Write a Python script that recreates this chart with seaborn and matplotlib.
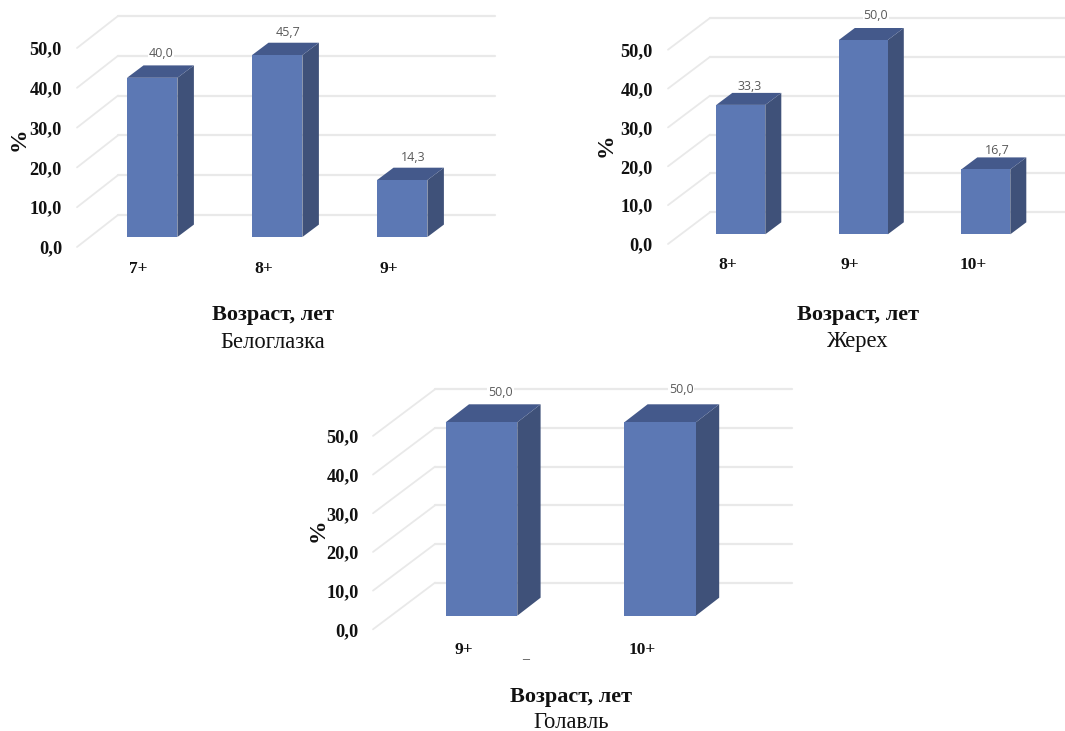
import matplotlib
matplotlib.use("Agg")
import matplotlib.pyplot as plt
from matplotlib.transforms import ScaledTranslation
import pandas as pd
import seaborn as sns

# Age-group shares, %
belogl_ages = ["7+", "8+", "9+"]
belogl_share = [40.0, 45.7, 14.3]
zherekh_ages = ["8+", "9+", "10+"]
zherekh_share = [33.3, 50.0, 16.7]
golavl_ages = ["9+", "10+"]
golavl_share = [50.0, 50.0]
y_ticks = [0, 10, 20, 30, 40, 50]

W, H, DPI = 1065, 731, 100
FRONT, SIDE, TOP = "#5C78B4", "#3F5179", "#44598B"
GRID = "#E9E9E9"

sns.set_theme(style="white")
plt.rcParams["font.family"] = ["Liberation Serif", "DejaVu Serif"]

# Panel geometry in figure pixels
panels = [
    dict(species="Белоглазка", ages=belogl_ages, share=belogl_share,
         left=62, wall_x0=118, wall_x1=495, floor_x=77, floor_y=247,
         base=237, px_per_unit=3.98, bar_x0=152.2, step=125, bar_w=50.4,
         depth=(16.5, 12.4), wall_y0=215, tick_dx=-13.5, tick_y=267,
         ylabel=(19, 139), xlabel=(273, 315), name=(273, 342),
         notes=[(9, 24), (11, 23), (11, 23)]),
    dict(species="Жерех", ages=zherekh_ages, share=zherekh_share,
         left=653, wall_x0=710, wall_x1=1065, floor_x=668, floor_y=244,
         base=234.3, px_per_unit=3.886, bar_x0=740.8, step=122.5, bar_w=49,
         depth=(16, 12), wall_y0=212.3, tick_dx=-13, tick_y=264,
         ylabel=(606, 145), xlabel=(858, 315), name=(858, 342),
         notes=[(9, 18.7), (12.7, 24), (11, 19)]),
    dict(species="Голавль", ages=golavl_ages, share=golavl_share,
         left=359, wall_x0=435, wall_x1=792, floor_x=373, floor_y=629.3,
         base=615.7, px_per_unit=3.868, bar_x0=481.5, step=178.6, bar_w=71.6,
         depth=(23.3, 18), wall_y0=582.7, tick_dx=-18, tick_y=649,
         ylabel=(318, 530), xlabel=(571, 697), name=(571, 722.5),
         notes=[(19, 30), (21, 32.5)]),
]

fig = plt.figure(figsize=(W / DPI, H / DPI), dpi=DPI, facecolor="white")


def shift(dx_px, dy_px):
    return ScaledTranslation(dx_px / DPI, dy_px / DPI, fig.dpi_scale_trans)


for p in panels:
    top_px = p["base"] - 3.98 * 58
    ax = fig.add_axes([p["left"] / W, 1 - p["floor_y"] / H,
                       (p["wall_x1"] - p["left"]) / W,
                       (p["floor_y"] - top_px) / H])
    ppu, step = p["px_per_unit"], p["step"]
    # x position 0 is the first bar's centre, y value 0 is the bar base
    x_of = lambda px, c=p["bar_x0"], s=step: (px - c) / s
    y_of = lambda py, b=p["base"], u=ppu: (b - py) / u

    # Back wall rules and the slanted rules running across the side wall
    wall_lift = y_of(p["wall_y0"])
    floor_drop = y_of(p["floor_y"])
    for v in y_ticks:
        ax.plot([x_of(p["wall_x0"]), x_of(p["wall_x1"])],
                [v + wall_lift, v + wall_lift],
                color=GRID, lw=1.6, zorder=1, clip_on=False)
        ax.plot([x_of(p["floor_x"]), x_of(p["wall_x0"])],
                [v + floor_drop, v + wall_lift],
                color=GRID, lw=1.3, zorder=1, clip_on=False)

    table = pd.DataFrame({"age": p["ages"], "share": p["share"]})
    sns.barplot(data=table, x="age", y="share", ax=ax, color=FRONT,
                saturation=1, width=p["bar_w"] / step, zorder=4, linewidth=0)
    ax.set_xlim(x_of(p["left"]), x_of(p["wall_x1"]))
    ax.set_ylim(y_of(p["floor_y"]), y_of(top_px))

    # Extrude each bar into a box: side and top faces
    ddx, ddy = p["depth"][0] / step, p["depth"][1] / ppu
    for bar, note, value in zip(ax.patches, p["notes"], p["share"]):
        x0, w, h = bar.get_x(), bar.get_width(), bar.get_height()
        x1 = x0 + w
        ax.fill([x1, x1 + ddx, x1 + ddx, x1], [0, ddy, h + ddy, h],
                color=SIDE, lw=0, zorder=3)
        ax.fill([x0, x1, x1 + ddx, x0 + ddx], [h, h, h + ddy, h + ddy],
                color=TOP, lw=0, zorder=3)
        ax.annotate(f"{value:.1f}".replace(".", ","),
                    xy=(x0 + w / 2, h),
                    xytext=(note[0] * 72 / DPI, note[1] * 72 / DPI),
                    textcoords="offset points", ha="center", va="center",
                    fontsize=9, color="#595959", family="Open Sans",
                    bbox=dict(facecolor="white", edgecolor="none", pad=0.6),
                    zorder=2, annotation_clip=False)

    sns.despine(ax=ax, left=True, bottom=True)
    ax.set_yticks(y_ticks)
    ax.set_yticklabels([f"{v:.1f}".replace(".", ",") for v in y_ticks])
    ax.tick_params(axis="both", length=0, labelcolor="#111111")
    ax.tick_params(axis="y", pad=0, labelsize=13.2)
    ax.tick_params(axis="x", labelsize=12.5,
                   pad=(p["tick_y"] - 6.5 - p["floor_y"]) * 72 / DPI)
    for lbl in ax.get_yticklabels():
        lbl.set_fontweight("bold")
        lbl.set_transform(lbl.get_transform() + shift(0, -(p["floor_y"] - p["base"])))
    for lbl in ax.get_xticklabels():
        lbl.set_fontweight("bold")
        lbl.set_transform(lbl.get_transform() + shift(p["tick_dx"], 0))

    # Axis titles placed through the axes' own labels
    to_axes = ax.transAxes.inverted()

    def frac(pt):
        return to_axes.transform((pt[0], H - pt[1]))

    ax.set_ylabel("%", fontsize=17, fontweight="bold", color="#111111")
    ax.yaxis.label.set_verticalalignment("center")
    ax.yaxis.set_label_coords(*frac(p["ylabel"]))
    ax.set_xlabel("Возраст, лет", fontsize=16, fontweight="bold", color="#111111")
    ax.xaxis.label.set_verticalalignment("center")
    ax.xaxis.set_label_coords(*frac(p["xlabel"]))
    ax.text(*frac(p["name"]), p["species"], transform=ax.transAxes, ha="center",
            va="center", fontsize=16.3, color="#111111", clip_on=False)
    ax.patch.set_alpha(0)

fig.text(525.5 / W, 1 - 655 / H, "_", ha="center", va="center",
         fontsize=10, color="#444444")

fig.savefig("out.png", dpi=DPI)
